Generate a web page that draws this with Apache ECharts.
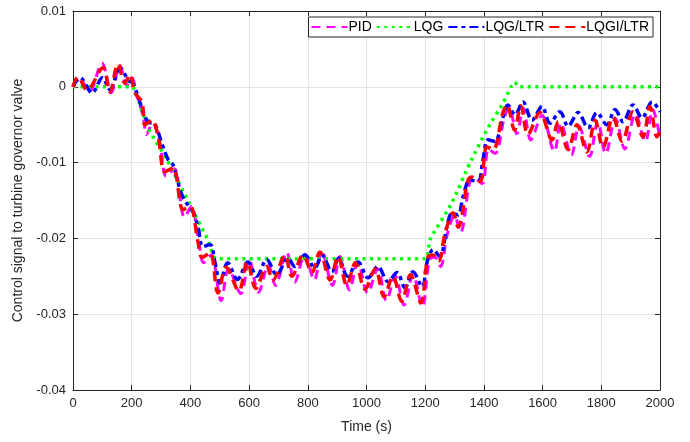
<!DOCTYPE html>
<html>
<head>
<meta charset="utf-8">
<title>Control signal</title>
<script src="https://cdn.jsdelivr.net/npm/echarts@6/dist/echarts.min.js"></script>
<style>
  html, body { margin: 0; padding: 0; background: #fff; }
  #chart { width: 690px; height: 442px; }
</style>
</head>
<body>
<div id="chart"></div>
<script>
// 图例名称
var seriesNames = ['PID', 'LQG', 'LQG/LTR', 'LQGI/LTR'];
// 坐标轴刻度
var xTicks = [0, 200, 400, 600, 800, 1000, 1200, 1400, 1600, 1800, 2000];
var yTicks = [-0.04, -0.03, -0.02, -0.01, 0, 0.01];

// PID [time, value]
var pidData = [[0,0],[20,0.0012],[55,-0.0006],[99,0.0031],[130,-0.0008],[160,0.0028],[183,0.0002],[200,0.0012],[218,-0.0012],[240,-0.004],[250,-0.0063],[272,-0.0048],[295,-0.0072],[318,-0.0118],[345,-0.0108],[380,-0.0172],[403,-0.0158],[430,-0.0208],[445,-0.0232],[470,-0.0222],[505,-0.0282],[530,-0.024],[572,-0.0273],[600,-0.0228],[632,-0.0271],[666,-0.0235],[690,-0.0262],[728,-0.0218],[755,-0.0258],[790,-0.0221],[822,-0.0255],[848,-0.0218],[884,-0.0262],[910,-0.0224],[942,-0.0268],[970,-0.0232],[1004,-0.0272],[1038,-0.024],[1068,-0.0282],[1098,-0.025],[1128,-0.0288],[1158,-0.0248],[1190,-0.029],[1215,-0.0228],[1233,-0.0225],[1252,-0.0237],[1275,-0.0195],[1300,-0.017],[1320,-0.0192],[1352,-0.0125],[1366,-0.012],[1394,-0.0128],[1416,-0.0082],[1438,-0.0088],[1470,-0.004],[1486,-0.0028],[1512,-0.0062],[1534,-0.0028],[1560,-0.007],[1598,-0.0038],[1640,-0.0085],[1662,-0.0048],[1698,-0.009],[1724,-0.0052],[1760,-0.0092],[1788,-0.0046],[1815,-0.0088],[1848,-0.0042],[1880,-0.0082],[1916,-0.0036],[1950,-0.0072],[1975,-0.003],[2000,-0.0068]];

// LQG
var lqgData = [[0,0],[200,0],[225,-0.002],[260,-0.0057],[320,-0.0096],[400,-0.0157],[460,-0.0202],[490,-0.0227],[1200,-0.0227],[1216,-0.0202],[1291,-0.0153],[1353,-0.010],[1414,-0.0054],[1466,-0.0021],[1505,0.0006],[1520,0],[2000,0]];

// LQG/LTR
var lqgLtrData = [[0,0],[24,0.0012],[65,-0.0008],[100,0.0012],[126,-0.0004],[160,0.0025],[190,0.0008],[204,0.0005],[235,-0.0028],[255,-0.0046],[279,-0.005],[303,-0.0075],[324,-0.0096],[341,-0.0103],[358,-0.0127],[375,-0.0146],[399,-0.016],[409,-0.0165],[426,-0.0185],[443,-0.0211],[467,-0.0208],[484,-0.0232],[501,-0.0259],[527,-0.0232],[560,-0.0254],[596,-0.0231],[626,-0.025],[660,-0.0228],[694,-0.0248],[732,-0.0226],[756,-0.0237],[790,-0.0222],[824,-0.0239],[848,-0.0222],[882,-0.0244],[905,-0.0226],[935,-0.025],[971,-0.0231],[1005,-0.0252],[1039,-0.0237],[1073,-0.0257],[1104,-0.0245],[1131,-0.0265],[1158,-0.0244],[1190,-0.0264],[1206,-0.0232],[1227,-0.0215],[1250,-0.0224],[1274,-0.0185],[1291,-0.0167],[1312,-0.0169],[1329,-0.0145],[1353,-0.0123],[1380,-0.0125],[1397,-0.0096],[1414,-0.007],[1438,-0.0072],[1462,-0.0044],[1482,-0.0024],[1506,-0.0037],[1533,-0.002],[1564,-0.0044],[1598,-0.0026],[1625,-0.0048],[1659,-0.0033],[1687,-0.0052],[1721,-0.0034],[1755,-0.0054],[1785,-0.0034],[1819,-0.005],[1847,-0.003],[1874,-0.0046],[1908,-0.0024],[1939,-0.0041],[1973,-0.002],[2000,-0.0033]];

// LQGI/LTR
var lqgiLtrData = [[0,0],[17,0.0013],[48,-0.0004],[102,0.0025],[126,-0.0007],[153,0.003],[177,0.0005],[194,0.0016],[211,-0.0008],[235,-0.002],[245,-0.005],[269,-0.0044],[290,-0.0066],[313,-0.0112],[341,-0.0107],[375,-0.0162],[399,-0.0158],[426,-0.0205],[440,-0.0225],[467,-0.0219],[494,-0.0272],[522,-0.0238],[565,-0.0269],[594,-0.0231],[623,-0.0266],[660,-0.0237],[681,-0.0255],[722,-0.0222],[746,-0.025],[784,-0.0222],[814,-0.0245],[841,-0.0218],[876,-0.0255],[903,-0.0224],[933,-0.0262],[962,-0.0232],[995,-0.0267],[1030,-0.024],[1060,-0.0277],[1090,-0.025],[1120,-0.0283],[1150,-0.0248],[1185,-0.0285],[1210,-0.0224],[1227,-0.0222],[1245,-0.023],[1268,-0.0193],[1295,-0.0166],[1312,-0.0185],[1346,-0.0123],[1359,-0.0119],[1387,-0.0125],[1410,-0.0079],[1431,-0.0083],[1465,-0.0034],[1479,-0.0024],[1504,-0.0057],[1526,-0.0025],[1550,-0.0063],[1591,-0.0034],[1632,-0.007],[1653,-0.0046],[1687,-0.0083],[1717,-0.005],[1751,-0.0086],[1779,-0.0044],[1806,-0.008],[1840,-0.004],[1871,-0.0072],[1908,-0.0033],[1942,-0.0066],[1966,-0.0026],[1990,-0.0066],[2000,-0.006]];

var font = 'Liberation Sans, Arial, sans-serif';
var axisColor = '#262626';

function fmtY(v) {
  return String(Math.round(v * 100) / 100);
}
function fmtX(v) {
  return String(v);
}

var chart = echarts.init(document.getElementById('chart'), null, { renderer: 'canvas' });

var option = {
  animation: false,
  backgroundColor: '#fff',
  grid: { left: 73, right: 30, top: 11, bottom: 52, containLabel: false },
  legend: {
    data: seriesNames,
    right: 37,
    top: 17,
    orient: 'horizontal',
    itemWidth: 36,
    itemHeight: 14,
    itemGap: 4,
    padding: [3, 4, 3, 2],
    borderColor: '#262626',
    borderWidth: 1,
    backgroundColor: '#fff',
    borderRadius: 0,
    itemStyle: { opacity: 0 },
    textStyle: { fontFamily: font, fontSize: 14, color: '#000', padding: [0, 0, 0, -4] }
  },
  xAxis: [
    {
      type: 'value',
      min: xTicks[0],
      max: xTicks[xTicks.length - 1],
      interval: 200,
      name: 'Time (s)',
      nameLocation: 'middle',
      nameGap: 30,
      nameTextStyle: { fontFamily: font, fontSize: 14, color: axisColor },
      axisLine: { show: true, onZero: false, lineStyle: { color: axisColor, width: 1 } },
      axisTick: { show: true, inside: true, length: 5, lineStyle: { color: axisColor } },
      axisLabel: { fontFamily: font, fontSize: 13, color: axisColor, margin: 7, formatter: fmtX },
      splitLine: { show: true, lineStyle: { color: '#e3e3e3', width: 1 } }
    },
    {
      type: 'value',
      position: 'top',
      min: xTicks[0],
      max: xTicks[xTicks.length - 1],
      interval: 200,
      axisLine: { show: true, onZero: false, lineStyle: { color: axisColor, width: 1 } },
      axisTick: { show: true, inside: true, length: 5, lineStyle: { color: axisColor } },
      axisLabel: { show: false },
      splitLine: { show: false }
    }
  ],
  yAxis: [
    {
      type: 'value',
      min: yTicks[0],
      max: yTicks[yTicks.length - 1],
      interval: 0.01,
      name: 'Control signal to turbine governor valve',
      nameLocation: 'middle',
      nameGap: 48,
      nameTextStyle: { fontFamily: font, fontSize: 14, color: axisColor },
      axisLine: { show: true, onZero: false, lineStyle: { color: axisColor, width: 1 } },
      axisTick: { show: true, inside: true, length: 5, lineStyle: { color: axisColor } },
      axisLabel: { fontFamily: font, fontSize: 13, color: axisColor, margin: 7, formatter: fmtY },
      splitLine: { show: true, lineStyle: { color: '#e3e3e3', width: 1 } }
    },
    {
      type: 'value',
      position: 'right',
      min: yTicks[0],
      max: yTicks[yTicks.length - 1],
      interval: 0.01,
      axisLine: { show: true, onZero: false, lineStyle: { color: axisColor, width: 1 } },
      axisTick: { show: true, inside: true, length: 5, lineStyle: { color: axisColor } },
      axisLabel: { show: false },
      splitLine: { show: false }
    }
  ],
  series: [
    {
      name: seriesNames[0],
      type: 'line',
      data: pidData,
      symbol: 'none',
      smooth: 0.35,
      color: '#ff00ff',
      lineStyle: { color: '#ff00ff', width: 3, type: [9, 6] }
    },
    {
      name: seriesNames[1],
      type: 'line',
      data: lqgData,
      symbol: 'none',
      smooth: 0.2,
      color: '#00ff00',
      lineStyle: { color: '#00ff00', width: 3.5, type: [3, 4.5] }
    },
    {
      name: seriesNames[2],
      type: 'line',
      data: lqgLtrData,
      symbol: 'none',
      smooth: 0.35,
      color: '#0000ff',
      lineStyle: { color: '#0000ff', width: 3.5, type: [9, 4, 4, 4] }
    },
    {
      name: seriesNames[3],
      type: 'line',
      data: lqgiLtrData,
      symbol: 'none',
      smooth: 0.35,
      color: '#ff0000',
      lineStyle: { color: '#ff0000', width: 3.5, type: [10, 6] }
    }
  ]
};

chart.setOption(option);
</script>
</body>
</html>
